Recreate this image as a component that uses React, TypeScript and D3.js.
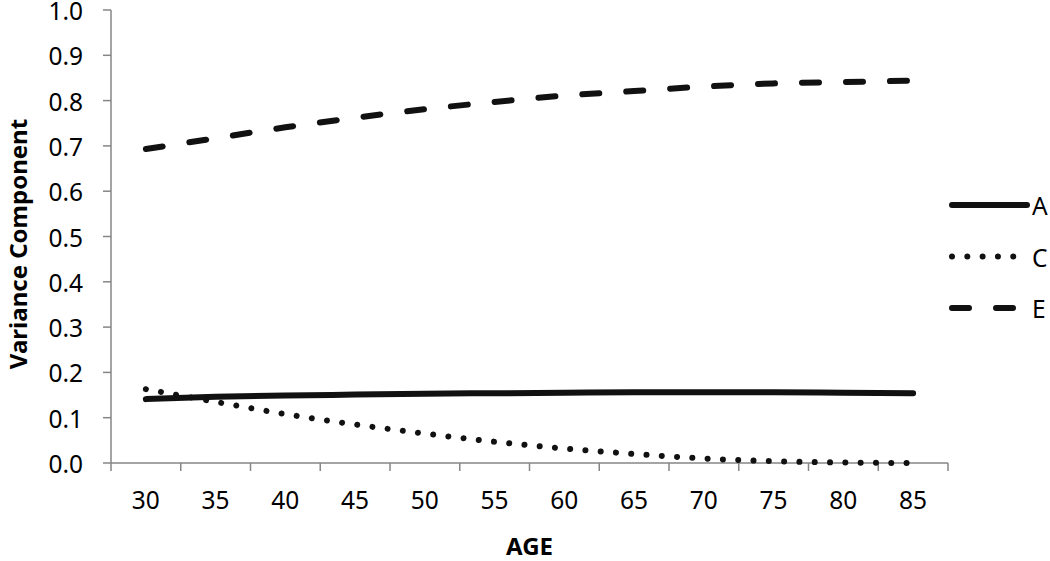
import * as React from "react";
import { scaleBand, scaleLinear, line, curveMonotoneX, range } from "d3";

const ages = ["30", "35", "40", "45", "50", "55", "60", "65", "70", "75", "80", "85"];
const seriesA = [0.141, 0.146, 0.149, 0.151, 0.153, 0.154, 0.155, 0.156, 0.156, 0.156, 0.155, 0.154];
const seriesC = [0.163, 0.135, 0.108, 0.085, 0.065, 0.047, 0.032, 0.02, 0.01, 0.004, 0.001, 0.0];
const seriesE = [0.693, 0.717, 0.741, 0.762, 0.781, 0.797, 0.811, 0.821, 0.831, 0.838, 0.841, 0.844];
const yTicks = range(0, 11).map((i) => i / 10);

const series = [
  { name: "A", values: seriesA, dash: "none" },
  { name: "C", values: seriesC, dash: "0.01,15.3" },
  { name: "E", values: seriesE, dash: "17,27" },
];

const W = 1050;
const H = 561;
const left = 111;
const right = 948;
const top = 10;
const bottom = 463;
const axisColor = "#868686";
const font = "'Noto Sans', 'Open Sans', sans-serif";
const fs = 24.5;

export default function App() {
  const x = scaleBand<string>().domain(ages).range([left, right]);
  const y = scaleLinear().domain([0, 1]).range([bottom, top]);
  const bw = x.bandwidth();

  const gen = line<number>()
    .x((_, i) => (x(ages[i]) as number) + bw / 2)
    .y((v) => y(v))
    .curve(curveMonotoneX);

  const tickXs = ages.map((a) => x(a) as number).concat([right]);

  return (
    <svg
      width={W}
      height={H}
      style={{ position: "absolute", left: 0, top: 0, background: "#fff" }}
      fontFamily={font}
    >
      {/* y axis */}
      <line x1={left} x2={left} y1={top} y2={bottom} stroke={axisColor} strokeWidth={1.5} />
      {yTicks.map((t) => (
        <g key={t}>
          <line x1={left - 8} x2={left} y1={y(t)} y2={y(t)} stroke={axisColor} strokeWidth={1.5} />
          <text x={83} y={y(t) + 1.5} dy="0.35em" textAnchor="end" fontSize={fs} fill="#000">
            {t.toFixed(1)}
          </text>
        </g>
      ))}
      {/* x axis */}
      <line x1={left} x2={right} y1={bottom} y2={bottom} stroke={axisColor} strokeWidth={1.5} />
      {tickXs.map((tx, i) => (
        <line key={i} x1={tx} x2={tx} y1={bottom} y2={bottom + 8} stroke={axisColor} strokeWidth={1.5} />
      ))}
      {ages.map((a) => (
        <text key={a} x={(x(a) as number) + bw / 2} y={509} textAnchor="middle" fontSize={fs} fill="#000">
          {a}
        </text>
      ))}
      <text x={(left + right) / 2} y={555} textAnchor="middle" fontSize={24} fontWeight="bold" fill="#000">
        AGE
      </text>
      <text
        transform={`translate(27, 244) rotate(-90)`}
        textAnchor="middle"
        fontSize={24}
        fontWeight="bold"
        fill="#000"
      >
        Variance Component
      </text>

      {/* series */}
      {series.map((s) => (
        <path
          key={s.name}
          d={gen(s.values) as string}
          fill="none"
          stroke="#111"
          strokeWidth={6}
          strokeLinecap="round"
          strokeDasharray={s.dash}
        />
      ))}

      {/* legend */}
      {series.map((s, i) => {
        const ly = 205 + i * 51.5;
        return (
          <g key={s.name}>
            <line
              x1={952}
              x2={1027}
              y1={ly}
              y2={ly}
              stroke="#111"
              strokeWidth={6}
              strokeLinecap="round"
              strokeDasharray={s.dash}
            />
            <text x={1032} y={ly + 1.5} dy="0.35em" fontSize={fs} fill="#000">
              {s.name}
            </text>
          </g>
        );
      })}
    </svg>
  );
}
